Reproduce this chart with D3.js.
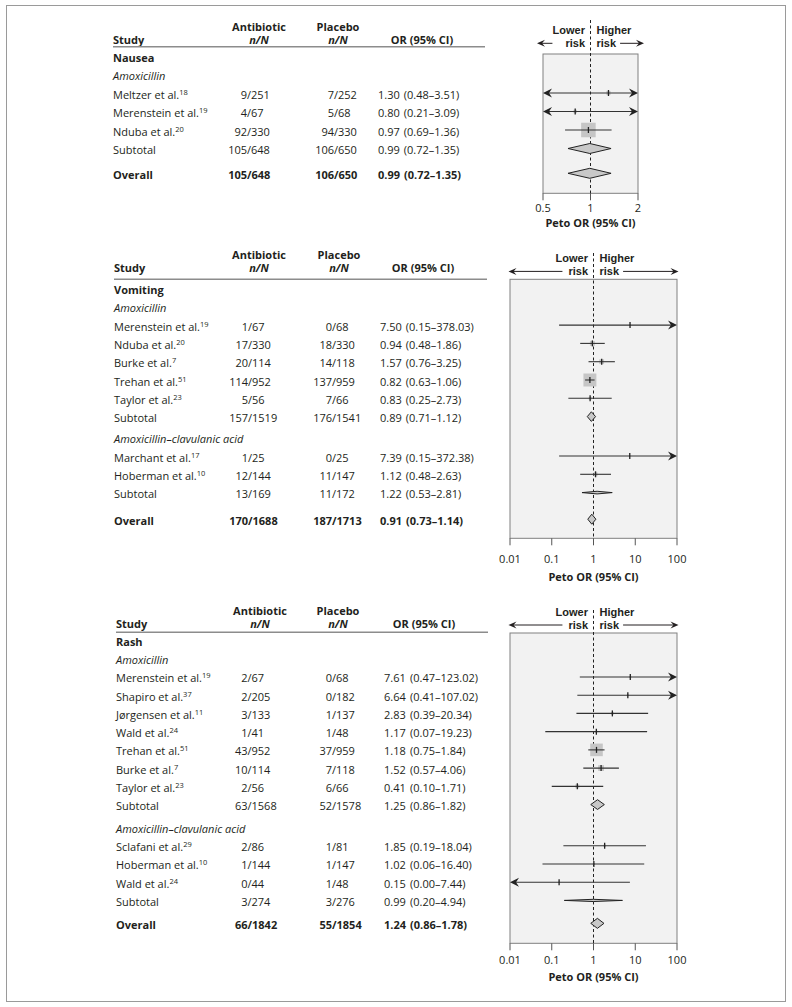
<!DOCTYPE html>
<html>
<head>
<meta charset="utf-8">
<script src="https://cdn.jsdelivr.net/npm/d3@7"></script>
<style>
  body { margin: 0; background: #fff; }
  svg text { font-family: "Open Sans", sans-serif; font-size: 11px; fill: #231f20; }
  svg text.risk { font-family: "Liberation Sans", Arial, sans-serif; font-size: 11px; }
</style>
</head>
<body>
<div id="chart"></div>
<script>

// Data: rows of each forest plot (w = weight in %)
const nauseaRows = [
  { type: "group", label: "Nausea" },
  { type: "sub", label: "Amoxicillin" },
  { type: "study", label: "Meltzer et al.", ref: "18", ab: "9/251", pl: "7/252", or: 1.30, lo: 0.48, hi: 3.51, w: 7 },
  { type: "study", label: "Merenstein et al.", ref: "19", ab: "4/67", pl: "5/68", or: 0.80, lo: 0.21, hi: 3.09, w: 5 },
  { type: "study", label: "Nduba et al.", ref: "20", ab: "92/330", pl: "94/330", or: 0.97, lo: 0.69, hi: 1.36, w: 88 },
  { type: "subtotal", label: "Subtotal", ab: "105/648", pl: "106/650", or: 0.99, lo: 0.72, hi: 1.35, w: 100 },
  { type: "overall", label: "Overall", ab: "105/648", pl: "106/650", or: 0.99, lo: 0.72, hi: 1.35, w: 100 }
];

const vomitingRows = [
  { type: "group", label: "Vomiting" },
  { type: "sub", label: "Amoxicillin" },
  { type: "study", label: "Merenstein et al.", ref: "19", ab: "1/67", pl: "0/68", or: 7.50, lo: 0.15, hi: 378.03, w: 0.3 },
  { type: "study", label: "Nduba et al.", ref: "20", ab: "17/330", pl: "18/330", or: 0.94, lo: 0.48, hi: 1.86, w: 10 },
  { type: "study", label: "Burke et al.", ref: "7", ab: "20/114", pl: "14/118", or: 1.57, lo: 0.76, hi: 3.25, w: 9.5 },
  { type: "study", label: "Trehan et al.", ref: "51", ab: "114/952", pl: "137/959", or: 0.82, lo: 0.63, hi: 1.06, w: 70 },
  { type: "study", label: "Taylor et al.", ref: "23", ab: "5/56", pl: "7/66", or: 0.83, lo: 0.25, hi: 2.73, w: 3.4 },
  { type: "subtotal", label: "Subtotal", ab: "157/1519", pl: "176/1541", or: 0.89, lo: 0.71, hi: 1.12, w: 93 },
  { type: "sub", label: "Amoxicillin–clavulanic acid" },
  { type: "study", label: "Marchant et al.", ref: "17", ab: "1/25", pl: "0/25", or: 7.39, lo: 0.15, hi: 372.38, w: 0.3 },
  { type: "study", label: "Hoberman et al.", ref: "10", ab: "12/144", pl: "11/147", or: 1.12, lo: 0.48, hi: 2.63, w: 6.4 },
  { type: "subtotal", label: "Subtotal", ab: "13/169", pl: "11/172", or: 1.22, lo: 0.53, hi: 2.81, w: 7 },
  { type: "overall", label: "Overall", ab: "170/1688", pl: "187/1713", or: 0.91, lo: 0.73, hi: 1.14, w: 100 }
];

const rashRows = [
  { type: "group", label: "Rash" },
  { type: "sub", label: "Amoxicillin" },
  { type: "study", label: "Merenstein et al.", ref: "19", ab: "2/67", pl: "0/68", or: 7.61, lo: 0.47, hi: 123.02, w: 1.7 },
  { type: "study", label: "Shapiro et al.", ref: "37", ab: "2/205", pl: "0/182", or: 6.64, lo: 0.41, hi: 107.02, w: 1.7 },
  { type: "study", label: "Jørgensen et al.", ref: "11", ab: "3/133", pl: "1/137", or: 2.83, lo: 0.39, hi: 20.34, w: 3.3 },
  { type: "study", label: "Wald et al.", ref: "24", ab: "1/41", pl: "1/48", or: 1.17, lo: 0.07, hi: 19.23, w: 1.7 },
  { type: "study", label: "Trehan et al.", ref: "51", ab: "43/952", pl: "37/959", or: 1.18, lo: 0.75, hi: 1.84, w: 66 },
  { type: "study", label: "Burke et al.", ref: "7", ab: "10/114", pl: "7/118", or: 1.52, lo: 0.57, hi: 4.06, w: 14 },
  { type: "study", label: "Taylor et al.", ref: "23", ab: "2/56", pl: "6/66", or: 0.41, lo: 0.10, hi: 1.71, w: 6.6 },
  { type: "subtotal", label: "Subtotal", ab: "63/1568", pl: "52/1578", or: 1.25, lo: 0.86, hi: 1.82, w: 95 },
  { type: "sub", label: "Amoxicillin–clavulanic acid" },
  { type: "study", label: "Sclafani et al.", ref: "29", ab: "2/86", pl: "1/81", or: 1.85, lo: 0.19, hi: 18.04, w: 2.5 },
  { type: "study", label: "Hoberman et al.", ref: "10", ab: "1/144", pl: "1/147", or: 1.02, lo: 0.06, hi: 16.40, w: 1.7 },
  { type: "study", label: "Wald et al.", ref: "24", ab: "0/44", pl: "1/48", or: 0.15, lo: 0.00, hi: 7.44, w: 0.8 },
  { type: "subtotal", label: "Subtotal", ab: "3/274", pl: "3/276", or: 0.99, lo: 0.20, hi: 4.94, w: 5 },
  { type: "overall", label: "Overall", ab: "66/1842", pl: "55/1854", or: 1.24, lo: 0.86, hi: 1.78, w: 100 }
];

const narrowTicks = [0.5, 1, 2];
const wideTicks = [0.01, 0.1, 1, 10, 100];


// Dimensions
const width = 792;
const height = 1007;

const svg = d3.select("#chart")
  .append("svg")
    .attr("width", width)
    .attr("height", height);

// Outer frame
svg.append("rect")
  .attr("x", 6.5)
  .attr("y", 5.5)
  .attr("width", 779)
  .attr("height", 996)
  .attr("fill", "none")
  .attr("stroke", "#9a9a9a");

// Layout of each panel
const panels = [
  {
    rows: nauseaRows, domain: [0.5, 2], ticks: narrowTicks,
    studyX: 113, abX: 247, plX: 334, orX: 378, ciX: 399,
    abHead: 259, plHead: 338, orHead: 422, lineEnd: 485,
    head1: 30.9, head2: 44.2, lineY: 46.7,
    firstY: 56, step: 18.5, gapSub: 4, gapOverall: 6.3,
    box: [543, 638, 54, 193.3], lowerY: 30, riskY: 43.3, dashTop: 20,
    tickY: 208.3, titleY: 223.3, arrowPad: 6, arrowGapL: 13
  },
  {
    rows: vomitingRows, domain: [0.01, 100], ticks: wideTicks,
    studyX: 114, abX: 248, plX: 332, orX: 380, ciX: 400.7,
    abHead: 259, plHead: 339, orHead: 423, lineEnd: 487,
    head1: 258.5, head2: 272, lineY: 279.3,
    firstY: 288.5, step: 18.3, gapSub: 2.8, gapOverall: 8.3,
    box: [510, 677, 279.3, 538.3], lowerY: 258.4, riskY: 271.4, dashTop: 253,
    tickY: 559.3, titleY: 576.7, arrowPad: 1.5, arrowGapL: 6
  },
  {
    rows: rashRows, domain: [0.01, 100], ticks: wideTicks,
    studyX: 116, abX: 247.5, plX: 332, orX: 384, ciX: 410,
    abHead: 260, plHead: 338, orHead: 424, lineEnd: 488,
    head1: 614.8, head2: 628, lineY: 632.3,
    firstY: 640.5, step: 18.23, gapSub: 4.7, gapOverall: 4.7,
    box: [510, 677, 633, 943.3], lowerY: 612, riskY: 625, dashTop: 610,
    tickY: 960, titleY: 976.7, arrowPad: 1.5, arrowGapL: 6
  }
];

const f2 = d3.format(".2f");
const squareSize = d3.scaleSqrt().domain([0, 100]).range([0, 15.5]);
const diamondHeight = d3.scaleSqrt().domain([0, 100]).range([0, 10]);

panels.forEach(p => {
  const g = svg.append("g");

  // Row positions
  let y = p.firstY;
  let subCount = 0;
  p.rows.forEach((r, i) => {
    if (i > 0) {
      y += p.step;
      if (r.type === "sub" && subCount > 0) y += p.gapSub;
      if (r.type === "overall") y += p.gapOverall;
    }
    if (r.type === "sub") subCount++;
    r.y = y;
  });

  // ---- Table header
  const head = g.append("g");
  head.append("text").attr("x", p.studyX).attr("y", p.head2).attr("font-weight", "bold").text("Study");
  [["Antibiotic", p.abHead], ["Placebo", p.plHead]].forEach(([name, hx]) => {
    head.append("text").attr("x", hx).attr("y", p.head1).attr("text-anchor", "middle").attr("font-weight", "bold").text(name);
    head.append("text").attr("x", hx).attr("y", p.head2).attr("text-anchor", "middle").attr("font-weight", "bold").attr("font-style", "italic").text("n/N");
  });
  head.append("text").attr("x", p.orHead).attr("y", p.head2).attr("text-anchor", "middle").attr("font-weight", "bold").text("OR (95% CI)");
  g.append("line")
    .attr("x1", p.studyX).attr("x2", p.lineEnd)
    .attr("y1", p.lineY).attr("y2", p.lineY)
    .attr("stroke", "#8c8c8c")
    .attr("stroke-width", 1.5);

  // ---- Table rows
  p.rows.forEach(r => {
    const base = r.y + 5.5;
    const bold = r.type === "overall" || r.type === "group" ? "bold" : "normal";
    const label = g.append("text")
      .attr("x", p.studyX)
      .attr("y", base)
      .attr("font-weight", bold)
      .attr("font-style", r.type === "sub" ? "italic" : "normal");
    label.append("tspan").text(r.label);
    if (r.ref) {
      label.append("tspan").attr("dy", -4).attr("font-size", 7.5).text(r.ref);
    }
    if (r.ab === undefined) return;

    [[r.ab, p.abX], [r.pl, p.plX]].forEach(([val, sx]) => {
      const [n, N] = val.split("/");
      g.append("text").attr("x", sx).attr("y", base).attr("text-anchor", "end").attr("font-weight", bold).text(n);
      g.append("text").attr("x", sx).attr("y", base).attr("font-weight", bold).text("/" + N);
    });
    const orText = g.append("text").attr("x", p.orX).attr("y", base).attr("font-weight", bold).text(f2(r.or));
    const orEnd = p.orX + orText.node().getComputedTextLength();
    g.append("text").attr("x", Math.max(p.ciX, orEnd + 4)).attr("y", base).attr("font-weight", bold)
      .text(`(${f2(r.lo)}–${f2(r.hi)})`);
  });

  // ---- Forest plot
  const [bx0, bx1, by0, by1] = p.box;
  const x = d3.scaleLog().domain(p.domain).range([bx0, bx1]);

  g.append("rect")
    .attr("x", bx0).attr("y", by0)
    .attr("width", bx1 - bx0).attr("height", by1 - by0)
    .attr("fill", "#f2f2f2")
    .attr("stroke", "#808080");

  // Axis ticks and labels
  g.append("g")
    .selectAll("line")
    .data(p.ticks)
    .join("line")
      .attr("x1", d => x(d)).attr("x2", d => x(d))
      .attr("y1", by1).attr("y2", by1 + 7)
      .attr("stroke", "#555");
  g.append("g")
    .selectAll("text")
    .data(p.ticks)
    .join("text")
      .attr("x", d => x(d))
      .attr("y", p.tickY + 4)
      .attr("text-anchor", "middle")
      .attr("font-size", 10.5)
      .text(d => String(d));
  g.append("text")
    .attr("x", (bx0 + bx1) / 2)
    .attr("y", p.titleY + 4)
    .attr("text-anchor", "middle")
    .attr("font-weight", "bold")
    .text("Peto OR (95% CI)");

  // Dashed no-effect line
  g.append("line")
    .attr("x1", x(1)).attr("x2", x(1))
    .attr("y1", p.dashTop).attr("y2", by1)
    .attr("stroke", "#222")
    .attr("stroke-dasharray", "3,2.5");

  // Lower / Higher risk header
  const riskText = (label, ty, anchorEnd) => g.append("text")
    .attr("class", "risk")
    .attr("x", anchorEnd ? x(1) - 5.5 : x(1) + 6)
    .attr("y", ty + 4)
    .attr("text-anchor", anchorEnd ? "end" : "start")
    .attr("font-weight", "bold")
    .text(label);
  riskText("Lower", p.lowerY, true);
  const riskL = riskText("risk", p.riskY, true);
  riskText("Higher", p.lowerY, false);
  const riskR = riskText("risk", p.riskY, false);
  const riskLW = riskL.node().getComputedTextLength();
  const riskRW = riskR.node().getComputedTextLength();
  const ay = p.riskY;
  const leftEnd = bx0 - p.arrowPad;
  const rightEnd = bx1 + p.arrowPad;
  g.append("line").attr("x1", leftEnd + 3).attr("x2", x(1) - 5.5 - riskLW - p.arrowGapL).attr("y1", ay).attr("y2", ay).attr("stroke", "#231f20");
  g.append("line").attr("x1", x(1) + 6 + riskRW + 4).attr("x2", rightEnd - 3).attr("y1", ay).attr("y2", ay).attr("stroke", "#231f20");
  g.append("path")
    .attr("d", `M${leftEnd},${ay} L${leftEnd + 8},${ay - 3.5} L${leftEnd + 5},${ay} L${leftEnd + 8},${ay + 3.5} Z`)
    .attr("fill", "#231f20");
  g.append("path")
    .attr("d", `M${rightEnd},${ay} L${rightEnd - 8},${ay - 3.5} L${rightEnd - 5},${ay} L${rightEnd - 8},${ay + 3.5} Z`)
    .attr("fill", "#231f20");

  // Studies
  const studies = p.rows.filter(r => r.type === "study");
  const marks = g.append("g");
  studies.forEach(r => {
    const s = squareSize(r.w);
    marks.append("rect")
      .attr("x", x(r.or) - s / 2).attr("y", r.y - s / 2)
      .attr("width", s).attr("height", s)
      .attr("fill", "#c6c6c6");

    const arrowLeft = r.lo < p.domain[0];
    const arrowRight = r.hi > p.domain[1];
    const x1 = arrowLeft ? bx0 + 6 : x(r.lo);
    const x2 = arrowRight ? bx1 - 6 : x(r.hi);
    marks.append("line")
      .attr("x1", x1).attr("x2", x2)
      .attr("y1", r.y).attr("y2", r.y)
      .attr("stroke", "#333")
      .attr("stroke-width", 1.1);
    if (arrowRight) {
      marks.append("path")
        .attr("d", `M${bx1},${r.y} L${bx1 - 9},${r.y - 4.5} L${bx1 - 6},${r.y} L${bx1 - 9},${r.y + 4.5} Z`)
        .attr("fill", "#222");
    }
    if (arrowLeft) {
      marks.append("path")
        .attr("d", `M${bx0},${r.y} L${bx0 + 9},${r.y - 4.5} L${bx0 + 6},${r.y} L${bx0 + 9},${r.y + 4.5} Z`)
        .attr("fill", "#222");
    }
    marks.append("line")
      .attr("x1", x(r.or)).attr("x2", x(r.or))
      .attr("y1", r.y - 3).attr("y2", r.y + 3)
      .attr("stroke", "#222")
      .attr("stroke-width", 1.3);
  });

  // Subtotal and overall diamonds
  const pooled = p.rows.filter(r => r.type === "subtotal" || r.type === "overall");
  g.append("g")
    .selectAll("path")
    .data(pooled)
    .join("path")
      .attr("d", r => {
        const h = diamondHeight(r.w) / 2;
        return `M${x(r.lo)},${r.y} L${x(r.or)},${r.y - h} L${x(r.hi)},${r.y} L${x(r.or)},${r.y + h} Z`;
      })
      .attr("fill", "#c8c8c8")
      .attr("stroke", "#222")
      .attr("stroke-width", 1);
});

</script>
</body>
</html>
